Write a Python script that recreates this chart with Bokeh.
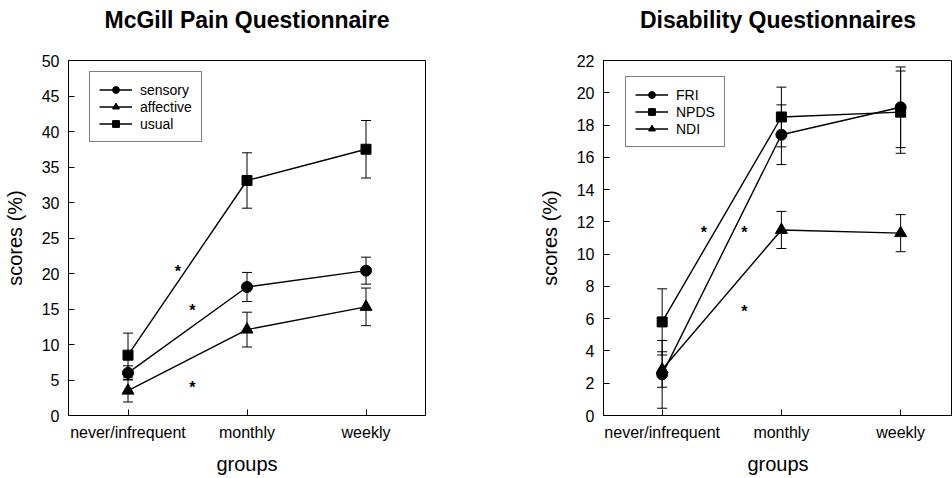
from bokeh.plotting import figure
from bokeh.models import (ColumnDataSource, Whisker, TeeHead, Range1d, FixedTicker,
                          Legend, LegendItem, LinearAxis)
from bokeh.layouts import row
from bokeh.embed import file_html
from bokeh.resources import INLINE
from bokeh.core.properties import value

# ---------------- data ----------------
groups = ["never/infrequent", "monthly", "weekly"]

sensory = [6.0, 18.1, 20.4]
sensory_err = [1.0, 2.05, 1.9]
affective = [3.5, 12.1, 15.3]
affective_err = [1.6, 2.45, 2.65]
usual = [8.5, 33.1, 37.5]
usual_err = [3.1, 3.9, 4.05]

fri = [2.55, 17.4, 19.1]
fri_err = [2.1, 1.85, 2.5]
npds = [5.8, 18.5, 18.8]
npds_err = [2.05, 1.85, 2.55]
ndi = [2.85, 11.5, 11.3]
ndi_err = [1.1, 1.15, 1.15]

mcgill_star_x = [1.42, 1.54, 1.54]
mcgill_star_y = [20.8, 15.4, 4.5]
disab_star_x = [1.35, 1.69, 1.69]
disab_star_y = [11.6, 11.6, 6.7]

mcgill_ticks = list(range(0, 51, 5))
disab_ticks = list(range(0, 23, 2))

title_left = "McGill Pain Questionnaire"
title_right = "Disability Questionnaires"

FONT = "Liberation Sans"
xs = [i + 1 for i in range(len(groups))]


def make_fig(title, x_range, y_max, yticks, width, border_left, border_right):
    p = figure(width=width, height=478, output_backend="svg", toolbar_location=None,
               x_range=x_range, y_range=Range1d(0, y_max),
               min_border_left=border_left, min_border_right=border_right,
               min_border_top=60, min_border_bottom=63)
    p.grid.visible = False
    p.outline_line_color = "black"
    p.outline_line_width = 1
    p.outline_line_alpha = 1
    p.background_fill_color = "white"
    p.border_fill_color = "white"
    bottom = p.below[0]
    left = p.left[0]
    for ax in (bottom, left):
        ax.axis_line_color = "black"
        ax.major_tick_in = 6
        ax.major_tick_out = 0
        ax.minor_tick_line_color = None
        ax.major_tick_line_color = "black"
        ax.major_label_text_font = FONT
        ax.major_label_text_font_size = "16px"
        ax.major_label_text_color = "black"
        ax.axis_label_text_font = FONT
        ax.axis_label_text_font_size = "20px"
        ax.axis_label_text_font_style = "normal"
        ax.axis_label_text_color = "black"
    bottom.ticker = FixedTicker(ticks=xs)
    bottom.major_label_overrides = {x: g for x, g in zip(xs, groups)}
    bottom.major_label_standoff = 8
    bottom.axis_label = "groups"
    bottom.axis_label_standoff = 9
    left.ticker = FixedTicker(ticks=yticks)
    left.major_label_standoff = 9
    left.axis_label = "scores (%)"
    left.axis_label_standoff = 13
    # title drawn as the label of an empty axis above the frame
    top = LinearAxis(ticker=FixedTicker(ticks=[]), axis_label=title,
                     axis_line_color=None, major_tick_line_color=None,
                     minor_tick_line_color=None, major_label_text_font_size="0px",
                     axis_label_standoff=28, axis_label_text_font=FONT,
                     axis_label_text_font_size="23px",
                     axis_label_text_font_style="bold",
                     axis_label_text_color="black")
    p.add_layout(top, "above")
    return p


def add_series(p, ys, errs, marker):
    src = ColumnDataSource(dict(x=xs, y=ys,
                                upper=[y + e for y, e in zip(ys, errs)],
                                lower=[y - e for y, e in zip(ys, errs)]))
    w = Whisker(base="x", upper="upper", lower="lower", source=src,
                line_color="black", line_width=1,
                upper_head=TeeHead(size=10, line_color="black", line_width=1),
                lower_head=TeeHead(size=10, line_color="black", line_width=1))
    p.add_layout(w)
    ln = p.line("x", "y", source=src, line_color="black", line_width=1.4)
    sz = 11 if marker == "circle" else (10 if marker == "square" else 12)
    sc = p.scatter("x", "y", source=src, marker=marker, size=sz,
                   fill_color="black", line_color="black")
    return [ln, sc]


def add_legend(p, items, loc):
    leg = Legend(items=[LegendItem(label=lab, renderers=r) for lab, r in items],
                 location=loc, glyph_width=33, glyph_height=17, label_height=17,
                 spacing=0, padding=9, margin=0, label_standoff=8,
                 label_text_font=FONT, label_text_font_size="14px",
                 label_text_color="black",
                 border_line_color="black", border_line_width=1,
                 background_fill_color="white", background_fill_alpha=1)
    p.add_layout(leg)


def add_stars(p, sx, sy):
    p.text(x=sx, y=sy, text=["*"] * len(sx), text_align="center",
           text_baseline="middle", text_font=value(FONT), text_font_size="16px",
           text_font_style="bold", text_color="black", y_offset=4)


# ---------------- left: McGill ----------------
p1 = make_fig(title_left, Range1d(0.5, 3.5), 50, mcgill_ticks, 476, 68, 51)
r_s = add_series(p1, sensory, sensory_err, "circle")
r_a = add_series(p1, affective, affective_err, "triangle")
r_u = add_series(p1, usual, usual_err, "square")
add_stars(p1, mcgill_star_x, mcgill_star_y)
add_legend(p1, [("sensory", r_s), ("affective", r_a), ("usual", r_u)], (21, 273))

# ---------------- right: Disability ----------------
p2 = make_fig(title_right, Range1d(0.508, 3.435), 22, disab_ticks, 476, 127, 0)
r_f = add_series(p2, fri, fri_err, "circle")
r_n = add_series(p2, npds, npds_err, "square")
r_d = add_series(p2, ndi, ndi_err, "triangle")
add_stars(p2, disab_star_x, disab_star_y)
add_legend(p2, [("FRI", r_f), ("NPDS", r_n), ("NDI", r_d)], (22, 268))

layout = row(p1, p2, spacing=0)
open("out.html", "w").write(file_html(layout, INLINE))
